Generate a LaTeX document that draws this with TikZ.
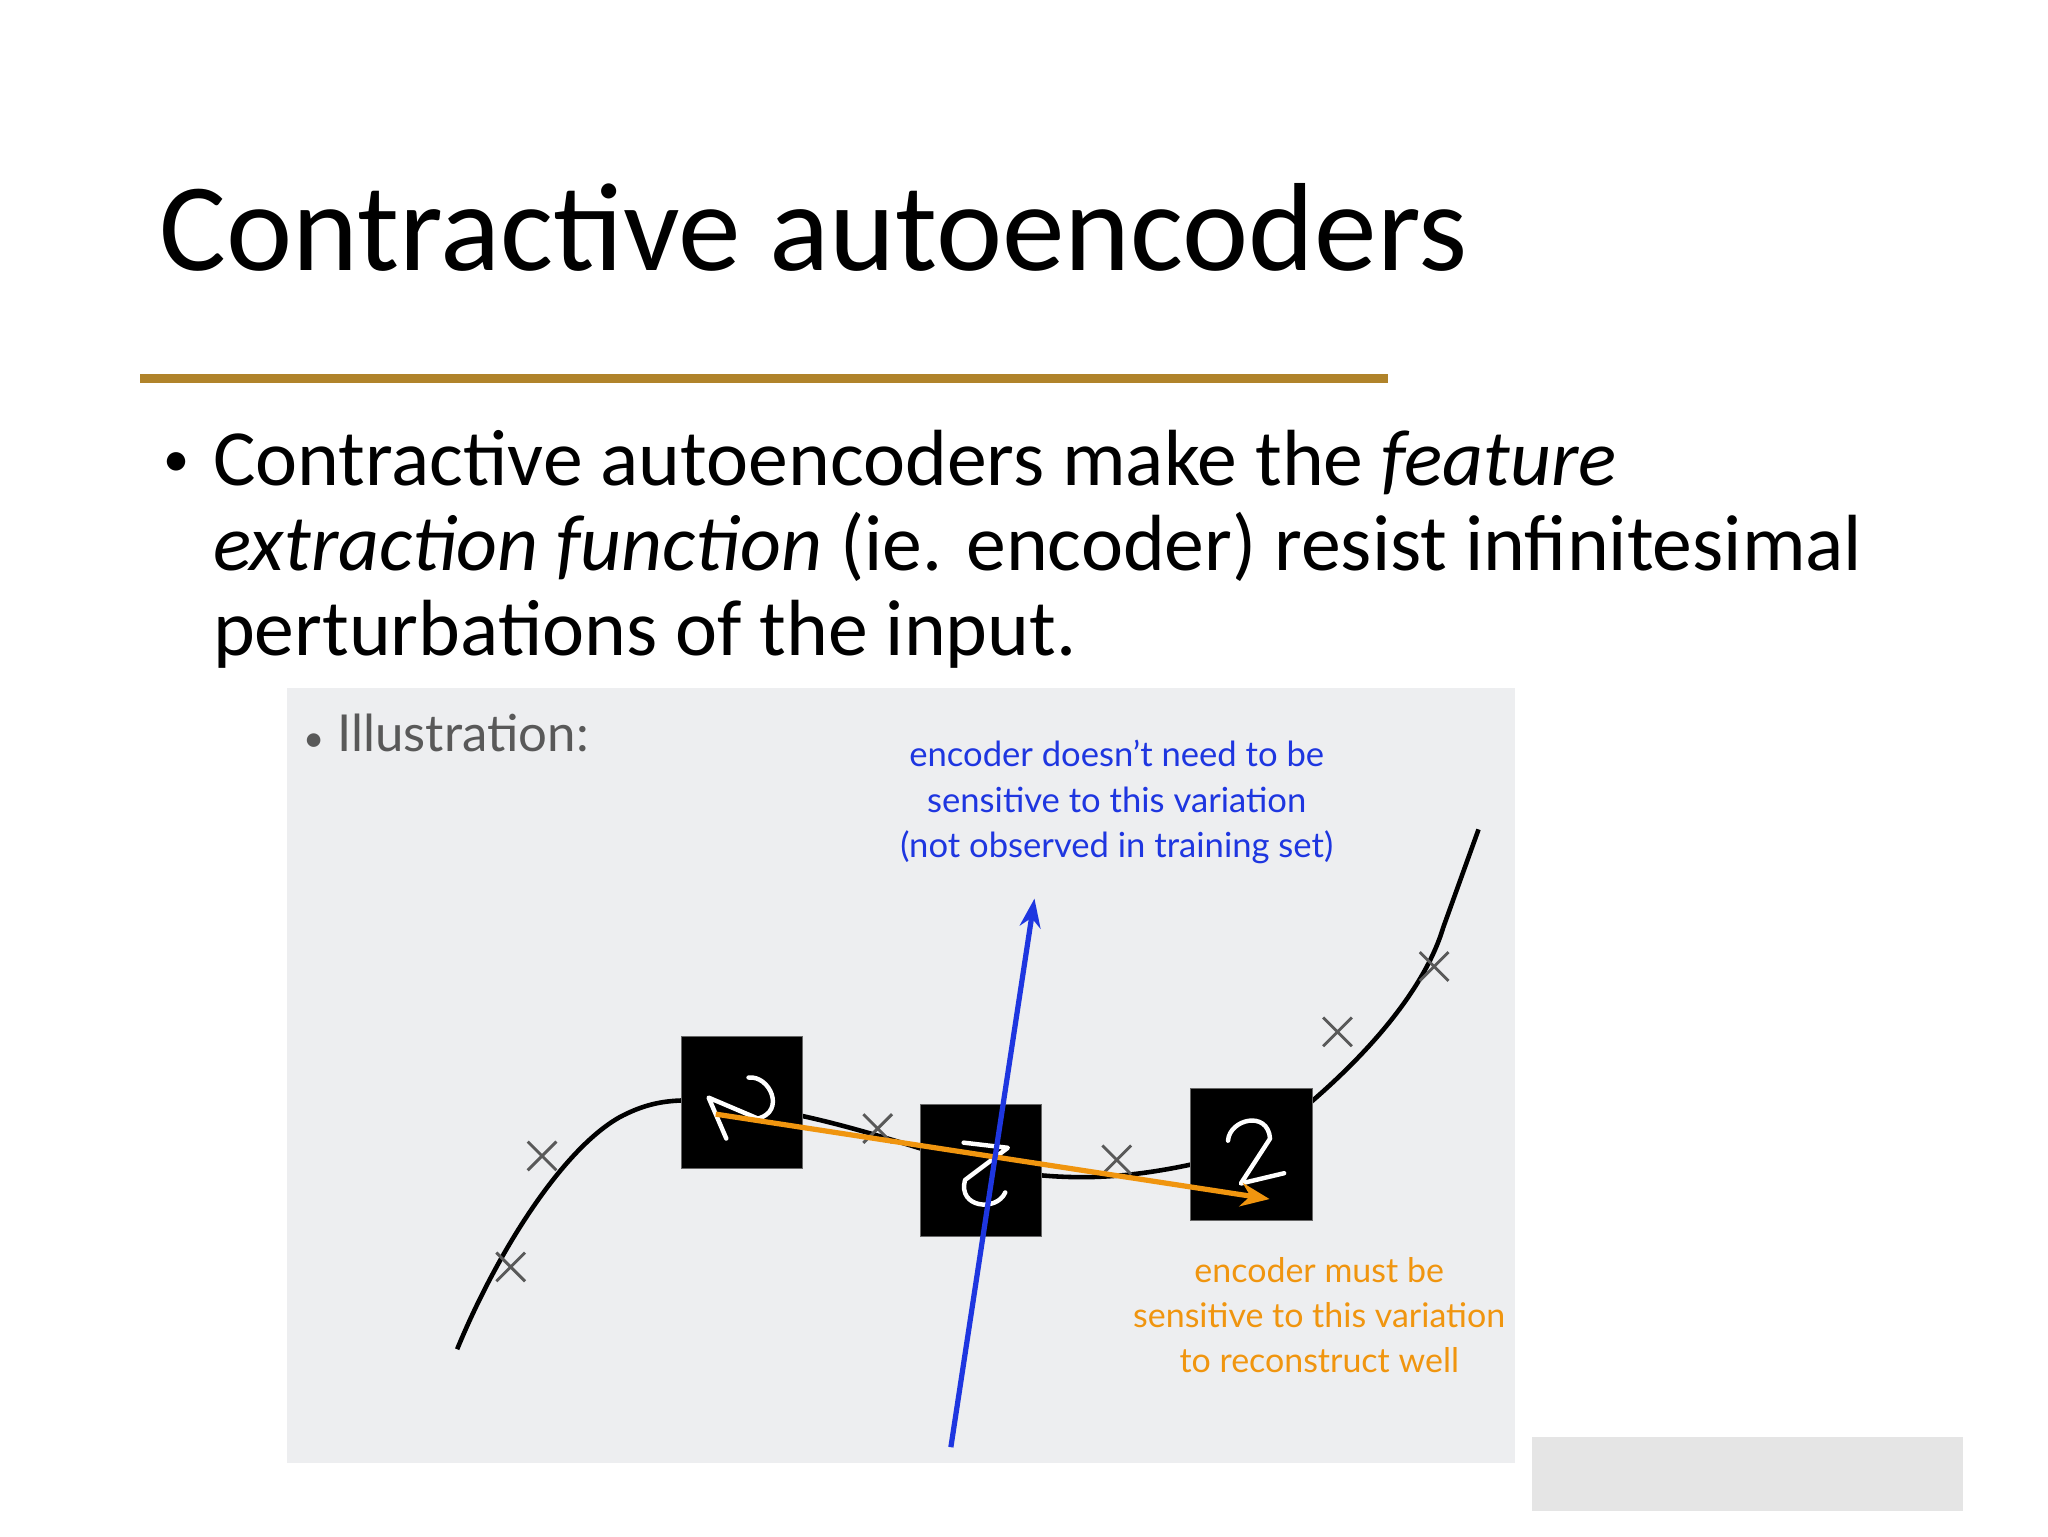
\documentclass[tikz,border=0pt]{standalone}
\usepackage{fontspec}
\setmainfont{Carlito}
\newfontfamily\illfont{Lato}
\usetikzlibrary{arrows.meta}
\definecolor{gold}{HTML}{B0832A}
\definecolor{bluetxt}{HTML}{1E36E0}
\definecolor{orgtxt}{HTML}{F0950F}
\definecolor{illbg}{HTML}{EDEEF0}
\tikzset{
  xmark/.style={draw=black!65, line width=2.2pt},
  digit/.style={draw=white, line width=3.4pt, line cap=round, line join=round},
  sq/.style={fill=black, draw=black!60, line width=0.6pt, minimum width=93pt, minimum height=101pt, inner sep=0pt},
  bodytxt/.style={anchor=base west, font=\fontsize{61}{65}\selectfont, inner sep=0},
}
\newcommand{\xm}[2]{\draw[xmark] (#1-11,#2-11) -- (#1+11,#2+11) (#1-11,#2+11) -- (#1+11,#2-11);}
\newcommand{\twodigit}[3]{\draw[digit, shift={(#1,#2)}, rotate=#3] (-18,-12) .. controls (-14,-28) and (16,-30) .. (14,-8) -- (-14,22) -- (20,20);}
\begin{document}
\begin{tikzpicture}[x=1pt,y=-1pt]
\fill[white] (0,0) rectangle (1568,1176);
\node[anchor=base west, font=\fontsize{96}{100}\selectfont, inner sep=0] (title) at (122,207) {Contractive autoencoders};
\fill[gold] (107,286) rectangle (1063,293);
\node[anchor=base west, font=\fontsize{40}{40}\selectfont, inner sep=0] (bul) at (125,365) {•};
\node[bodytxt] (l1) at (163,372) {Contractive autoencoders make the \textit{feature}};
\node[bodytxt] (l2) at (163,437) {\textit{extraction function} (ie. encoder) resist infinitesimal};
\node[bodytxt] (l3) at (163,502) {perturbations of the input.};
\fill[illbg] (220,527) rectangle (1160,1120);
\fill[black!10] (1173,1100) rectangle (1503,1157);
\node[anchor=base west, font=\illfont\fontsize{39}{40}\selectfont, text=black!65, inner sep=0] (ill) at (232,575) {{\fontsize{28}{28}\selectfont\textbullet}\ Illustration:};
\node[font=\illfont\fontsize{26.5}{34.5}\selectfont, text=bluetxt, align=center] (btxt) at (855,614) {encoder doesn’t need to be\\sensitive to this variation\\(not observed in training set)};
\node[font=\illfont\fontsize{26}{34.5}\selectfont, text=orgtxt, align=center] (otxt) at (1010,1007) {encoder must be\\sensitive to this variation\\to reconstruct well};
% curve
\draw[line width=3.5pt] (350,1033) .. controls (380,960) and (430,880) .. (475,855) .. controls (500,842) and (520,840) .. (560,845)
  .. controls (640,855) and (700,880) .. (760,895) .. controls (820,905) and (870,905) .. (958,880)
  .. controls (1040,820) and (1090,760) .. (1105,710) -- (1132,635);
\xm{415}{885}\xm{391}{970}\xm{672}{864}\xm{855}{888}\xm{1024}{790}\xm{1098}{740}
\node[sq] (d1) at (568,844) {};
\node[sq] (d2) at (751,896) {};
\node[sq] (d3) at (958,884) {};
\twodigit{568}{846}{-70}
\twodigit{754}{898}{170}
\twodigit{960}{882}{10}
\coordinate (os) at (548,853);
\coordinate (oe) at (972,918);
\coordinate (bs) at (728,1108);
\coordinate (be) at (792,688);
\draw[orgtxt, line width=4pt, -{Stealth[length=22pt,width=18pt]}] (os) -- (oe);
\draw[bluetxt, line width=4pt, -{Stealth[length=22pt,width=16pt]}] (bs) -- (be);
\end{tikzpicture}
\end{document}
